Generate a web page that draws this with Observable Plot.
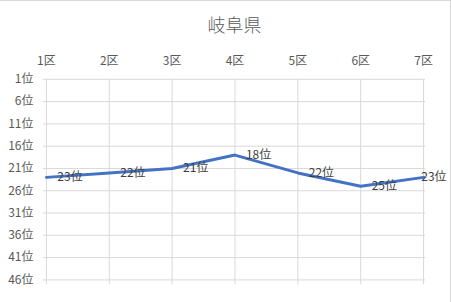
<!DOCTYPE html>
<html>
<head>
<meta charset="utf-8">
<script src="https://cdn.jsdelivr.net/npm/d3@7"></script>
<script src="https://cdn.jsdelivr.net/npm/@observablehq/plot@0.6"></script>
<style>
  html, body { margin: 0; padding: 0; background: #fff; }
  #chart { width: 451px; height: 302px; box-sizing: border-box; border-top: 1px solid #d9d9d9; border-right: 1px solid #d9d9d9; overflow: hidden; position: relative; }
  #chart svg { position: absolute; left: 0; top: -1px; overflow: visible; }
</style>
</head>
<body>
<div id="chart"></div>
<script>
const title = "岐阜県";
const districts = ["1区", "2区", "3区", "4区", "5区", "6区", "7区"];
const ranks = [23, 22, 21, 18, 22, 25, 23];
const yTicks = [1, 6, 11, 16, 21, 26, 31, 36, 41, 46];

const data = districts.map((d, i) => ({district: d, rank: ranks[i]}));
const inner = data.slice(0, -1);
const last = data.slice(-1);
const font = "'Noto Sans CJK JP', 'Noto Sans', sans-serif";

const chart = Plot.plot({
  width: 451,
  height: 302,
  marginTop: 79,
  marginBottom: 22,
  marginLeft: 43,
  marginRight: 25,
  style: {fontFamily: font, fontSize: "12px", color: "#595959", background: "transparent", overflow: "visible"},
  x: {type: "point", domain: districts, padding: 0},
  y: {domain: [1, 46], reverse: true},
  marks: [
    Plot.gridY(yTicks, {stroke: "#d9d9d9", strokeOpacity: 1, strokeWidth: 1}),
    Plot.gridX(districts, {stroke: "#d9d9d9", strokeOpacity: 1, strokeWidth: 1}),
    Plot.axisX({anchor: "bottom", ticks: districts, tickSize: 5, text: null, stroke: "#d9d9d9", strokeOpacity: 1, label: null}),
    Plot.axisX({anchor: "top", ticks: districts, tickSize: 0, tickPadding: 14, fill: "#595959", fontSize: 12, label: null}),
    Plot.axisY({ticks: yTicks, tickSize: 0, tickPadding: 10, tickFormat: d => d + "位", fill: "#595959", fontSize: 12, label: null}),
    Plot.line(data, {x: "district", y: "rank", stroke: "#4472C4", strokeWidth: 3, strokeLinecap: "round", strokeLinejoin: "round"}),
    Plot.text(inner, {x: "district", y: "rank", text: d => d.rank + "位", textAnchor: "start", dx: 11, fill: "#404040", fontSize: 12}),
    Plot.text(last, {x: "district", y: "rank", text: d => d.rank + "位", textAnchor: "end", dx: 23, fill: "#404040", fontSize: 12}),
    Plot.text([title], {frameAnchor: "top", lineAnchor: "middle", dy: -53, fill: "#595959", fontSize: 18, fontWeight: 300})
  ]
});
document.getElementById("chart").appendChild(chart);
</script>
</body>
</html>
